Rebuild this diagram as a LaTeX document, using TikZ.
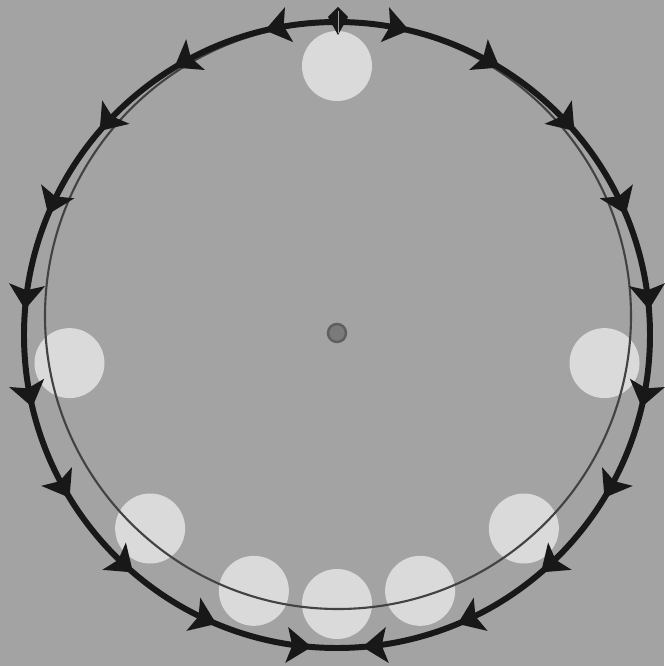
\documentclass[tikz,border=0pt]{standalone}
\usetikzlibrary{arrows.meta,decorations.markings}
\definecolor{bggray}{RGB}{163,163,163}
\definecolor{discgray}{RGB}{218,218,218}
\definecolor{ringblack}{RGB}{24,24,24}
\definecolor{guidegray}{RGB}{66,66,66}
\definecolor{dotgray}{RGB}{122,122,122}
\tikzset{
  disc/.style={fill=discgray},
  guide/.style={draw=guidegray, line width=1.2pt},
  flow/.style={ringblack, line width=3.4pt, postaction={decorate},
    decoration={markings, mark=between positions 0.074 and 0.98 step 0.1
      with {\arrow{Stealth[length=14pt,width=20pt,inset=3pt]}}}}
}
\begin{document}
\begin{tikzpicture}[x=0.02cm,y=0.02cm]
%Background
\fill [bggray] (-337,-331) rectangle (327,335);
\useasboundingbox (-337,-331) rectangle (327,335);

%Discs
\foreach \a in {90,186,226,252,270,288,314,354}
  \fill [disc] (\a:269) circle [radius=35];

%Centre
\draw [fill=dotgray, draw=guidegray!70!bggray, line width=1.4pt] (0,2) circle [radius=9];

%Inner circle
\draw [guide] (1,19) circle [radius=293];

%Outer ring, left and right halves
\draw [flow] (90:313) arc [start angle=90, end angle=270, radius=313];
\draw [flow] (90:313) arc [start angle=90, end angle=-90, radius=313];

%Top mark
\fill [ringblack] (1,328) -- (-9,318) -- (1,300) -- (11,318) -- cycle;
\draw [discgray!70!ringblack, line width=0.4pt] (1,324) -- (1,302);
\end{tikzpicture}
\end{document}
